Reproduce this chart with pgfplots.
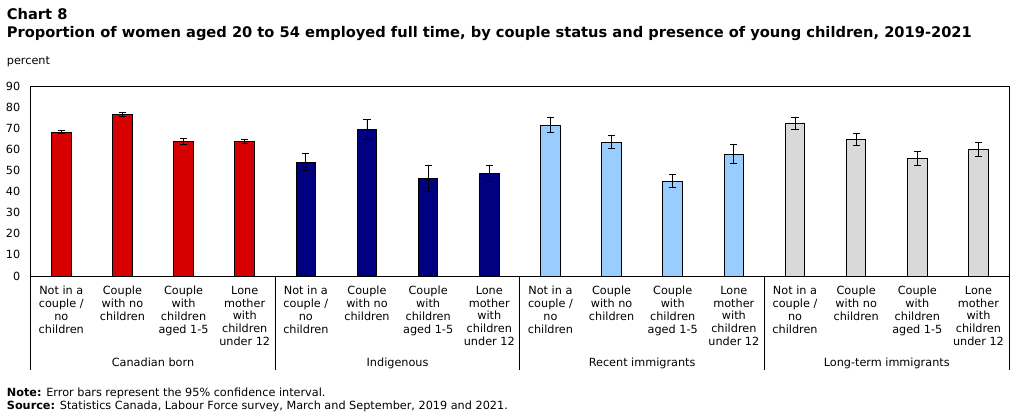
\documentclass[border=0pt]{standalone}
\usepackage{fontspec}
\setmainfont{DejaVu Sans}
\usepackage{pgfplots}
\pgfplotsset{compat=1.18}

\definecolor{cborn}{RGB}{214,0,0}
\definecolor{cindig}{RGB}{0,0,128}
\definecolor{crecent}{RGB}{153,204,255}
\definecolor{clong}{RGB}{217,217,217}

\newcommand{\smallfont}{\fontsize{11.3}{12.9}\selectfont}

\pgfplotsset{
  catbar/.style={
    ybar, bar width=0.32, bar shift=0pt,
    draw=black, line width=0.9bp,
    error bars/y dir=both, error bars/y explicit,
    error bars/error bar style={line width=0.9bp, black},
    error bars/error mark options={rotate=90, mark size=3.6bp, line width=0.9bp, black}
  }
}

\begin{document}
\begin{tikzpicture}[x=1bp,y=1bp]
\useasboundingbox (0,0) rectangle (1022,416);

% titles
\node[anchor=base west, inner sep=0, font=\fontsize{14.7}{17}\selectfont\bfseries] at (6.7,396) {Chart 8};
\node[anchor=base west, inner sep=0, font=\fontsize{14.7}{17}\selectfont\bfseries] at (6.7,378.5)
  {Proportion of women aged 20 to 54 employed full time, by couple status and presence of young children, 2019-2021};
\node[anchor=base west, inner sep=0, font=\smallfont] at (6.7,352) {percent};

% notes
\node[anchor=base west, inner sep=0, font=\smallfont] at (6.7,19.5)
  {\textbf{Note:} Error bars represent the 95\% confidence interval.};
\node[anchor=base west, inner sep=0, font=\smallfont] at (6.7,6.5)
  {\textbf{Source:} Statistics Canada, Labour Force survey, March and September, 2019 and 2021.};

\begin{axis}[
  at={(30.7bp,140bp)}, anchor=south west,
  scale only axis, width=978.3bp, height=190bp,
  xmin=-0.5, xmax=15.5, ymin=0, ymax=90,
  ytick={0,10,...,90},
  xtick={0,...,15},
  major tick length=0pt,
  axis line style={line width=0.9bp, black},
  clip=false,
  /pgf/number format/assume math mode=true,
  tick label style={font=\smallfont},
  yticklabel style={xshift=-7bp},
  xticklabel style={align=center, anchor=north, yshift=-6.5bp},
  xticklabels={
    {Not in a\\couple /\\no\\children},{Couple\\with no\\children},{Couple\\with\\children\\aged 1-5},{Lone\\mother\\with\\children\\under 12},
    {Not in a\\couple /\\no\\children},{Couple\\with no\\children},{Couple\\with\\children\\aged 1-5},{Lone\\mother\\with\\children\\under 12},
    {Not in a\\couple /\\no\\children},{Couple\\with no\\children},{Couple\\with\\children\\aged 1-5},{Lone\\mother\\with\\children\\under 12},
    {Not in a\\couple /\\no\\children},{Couple\\with no\\children},{Couple\\with\\children\\aged 1-5},{Lone\\mother\\with\\children\\under 12}
  },
]
% Canadian born
\addplot[catbar, fill=cborn] coordinates {
  (0,68.1) +- (0,0.8)
  (1,76.6) +- (0,0.9)
  (2,63.8) +- (0,1.3)
  (3,63.8) +- (0,1.1)
};
% Indigenous
\addplot[catbar, fill=cindig] coordinates {
  (4,53.9) +- (0,4.0)
  (5,69.5) +- (0,4.8)
  (6,46.3) +- (0,6.1)
  (7,48.6) +- (0,3.6)
};
% Recent immigrants
\addplot[catbar, fill=crecent] coordinates {
  (8,71.4) +- (0,3.5)
  (9,63.3) +- (0,3.1)
  (10,44.9) +- (0,3.1)
  (11,57.6) +- (0,4.5)
};
% Long-term immigrants
\addplot[catbar, fill=clong] coordinates {
  (12,72.3) +- (0,2.8)
  (13,64.7) +- (0,2.7)
  (14,55.7) +- (0,3.3)
  (15,60.0) +- (0,3.3)
};

% group separators below the axis
\draw[line width=0.9bp] (axis cs:-0.5,0) -- ([yshift=-94bp]axis cs:-0.5,0);
\draw[line width=0.9bp] (axis cs:3.5,0) -- ([yshift=-94bp]axis cs:3.5,0);
\draw[line width=0.9bp] (axis cs:7.5,0) -- ([yshift=-94bp]axis cs:7.5,0);
\draw[line width=0.9bp] (axis cs:11.5,0) -- ([yshift=-94bp]axis cs:11.5,0);
\draw[line width=0.9bp] (axis cs:15.5,0) -- ([yshift=-94bp]axis cs:15.5,0);
% group names
\node[font=\smallfont, anchor=base, yshift=-90.5bp] at (axis cs:1.5,0) {Canadian born};
\node[font=\smallfont, anchor=base, yshift=-90.5bp] at (axis cs:5.5,0) {Indigenous};
\node[font=\smallfont, anchor=base, yshift=-90.5bp] at (axis cs:9.5,0) {Recent immigrants};
\node[font=\smallfont, anchor=base, yshift=-90.5bp] at (axis cs:13.5,0) {Long-term immigrants};
\end{axis}
\end{tikzpicture}
\end{document}
